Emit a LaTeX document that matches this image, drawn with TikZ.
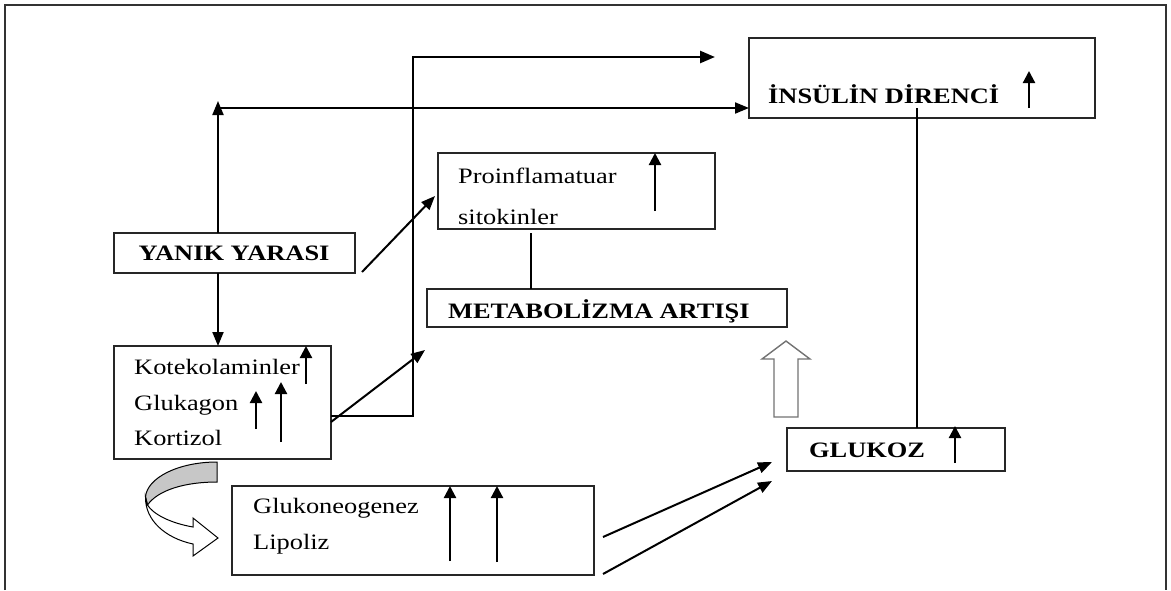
\documentclass[tikz,border=0pt]{standalone}
\usepackage{fontspec}
\setmainfont{Liberation Serif}[FakeStretch=1.2]
\usetikzlibrary{arrows.meta}
\begin{document}
\begin{tikzpicture}[x=1pt,y=-1pt,
 boxst/.style={draw=black!85, line width=1.5pt, inner sep=0pt, outer sep=0pt, anchor=north west},
 conn/.style={line width=2pt, -{Triangle[length=14pt,width=11pt]}},
 plainln/.style={line width=2pt},
 uparr/.style={line width=2.2pt, -{Triangle[length=12pt,width=12pt]}},
 txt/.style={inner sep=0pt, anchor=base west, font=\fontsize{22}{26}\selectfont},
 btxt/.style={inner sep=0pt, anchor=base west, font=\fontsize{22}{26}\selectfont\bfseries},
]
\useasboundingbox (0,0) rectangle (1171,590);
\fill[white] (0,0) rectangle (1171,590);
% outer frame
\draw[black!80, line width=1.6pt] (5,590) -- (5,5) -- (1166,5) -- (1166,590);

% boxes
\node[boxst, minimum width=241pt, minimum height=40pt] (yanik) at (114,233) {};
\node[boxst, minimum width=346pt, minimum height=80pt] (insulin) at (749,38) {};
\node[boxst, minimum width=277pt, minimum height=76pt] (proinf) at (438,153) {};
\node[boxst, minimum width=360pt, minimum height=38pt] (metab) at (427,289) {};
\node[boxst, minimum width=217pt, minimum height=113pt] (kote) at (114,346) {};
\node[boxst, minimum width=362pt, minimum height=89pt] (gluco) at (232,486) {};
\node[boxst, minimum width=218pt, minimum height=43pt] (glukoz) at (787,428) {};

% texts
\node[btxt, anchor=base] (tyanik) at (234,260) {YANIK YARASI};
\node[btxt] (tins) at (768,103) {İNSÜLİN DİRENCİ};
\node[txt] (tpro1) at (458,183) {Proinflamatuar};
\node[txt] (tpro2) at (458,224) {sitokinler};
\node[btxt] (tmet) at (448,318) {METABOLİZMA ARTIŞI};
\node[txt] (tk1) at (134,374) {Kotekolaminler};
\node[txt] (tk2) at (134,410) {Glukagon};
\node[txt] (tk3) at (134,445) {Kortizol};
\node[txt] (tg1) at (253,513) {Glukoneogenez};
\node[txt] (tg2) at (253,549) {Lipoliz};
\node[btxt] (tglu) at (809,457) {GLUKOZ};

% small up arrows inside boxes
\coordinate (ai1) at (1029,108); \coordinate (ai2) at (1029,71);
\draw[uparr] (ai1) -- (ai2);
\coordinate (ap1) at (655,211); \coordinate (ap2) at (655,153);
\draw[uparr] (ap1) -- (ap2);
\coordinate (ak1) at (306,384); \coordinate (ak2) at (306,346);
\draw[uparr] (ak1) -- (ak2);
\coordinate (ak3) at (256,429); \coordinate (ak4) at (256,391);
\draw[uparr] (ak3) -- (ak4);
\coordinate (ak5) at (281,442); \coordinate (ak6) at (281,382);
\draw[uparr] (ak5) -- (ak6);
\coordinate (ag1) at (450,561); \coordinate (ag2) at (450,486);
\draw[uparr] (ag1) -- (ag2);
\coordinate (ag3) at (497,562); \coordinate (ag4) at (497,486);
\draw[uparr] (ag3) -- (ag4);
\coordinate (az1) at (955,463); \coordinate (az2) at (955,426);
\draw[uparr] (az1) -- (az2);

% connectors
\coordinate (ytop) at (218,101);
\coordinate (hstart) at (218,108);
\draw[conn] (ytop |- yanik.north) -- (ytop);
\draw[conn] (hstart) -- (hstart -| insulin.west);
\draw[conn] (ytop |- yanik.south) -- (ytop |- kote.north);

\coordinate (ya1) at (362,272); \coordinate (pa1) at (435,196);
\draw[conn] (ya1) -- (pa1);

\coordinate (pm1) at (531,233);
\draw[plainln] (pm1) -- (pm1 |- metab.north);

\coordinate (k1) at (331,416); \coordinate (tk) at (413,57); \coordinate (toptip) at (715,57);
\draw[line width=2.6pt, -{Triangle[length=15pt,width=12pt]}] (k1) -- (k1 -| tk) -- (tk) -- (toptip);

\coordinate (km1) at (331,422); \coordinate (km2) at (425,350);
\draw[conn] (km1) -- (km2);

\coordinate (ig) at (917,108);
\draw[plainln] (ig) -- (ig |- glukoz.north);

\coordinate (gg1) at (603,537); \coordinate (gg2) at (772,462);
\coordinate (gg3) at (603,574); \coordinate (gg4) at (772,481);
\draw[conn] (gg1) -- (gg2);
\draw[conn] (gg3) -- (gg4);

% hollow block up arrow
\draw[black!55, line width=1.4pt, fill=white] (774,417) -- (774,359) -- (762,359) -- (786,341) -- (810,359) -- (798,359) -- (798,417) -- cycle;

% curved block arrow
\draw[line width=1pt, fill=black!22] (217,462) .. controls (178,462) and (147,478) .. (145.5,497) -- (147.5,505) .. controls (158,490) and (185,482) .. (217,482) -- cycle;
\draw[line width=1pt, fill=white] (145.5,497) .. controls (145,520) and (165,538) .. (193,544) -- (193,556) -- (218,538) -- (193,518) -- (193,527) .. controls (170,523) and (153,514) .. (147.5,505) -- cycle;
\end{tikzpicture}
\end{document}
